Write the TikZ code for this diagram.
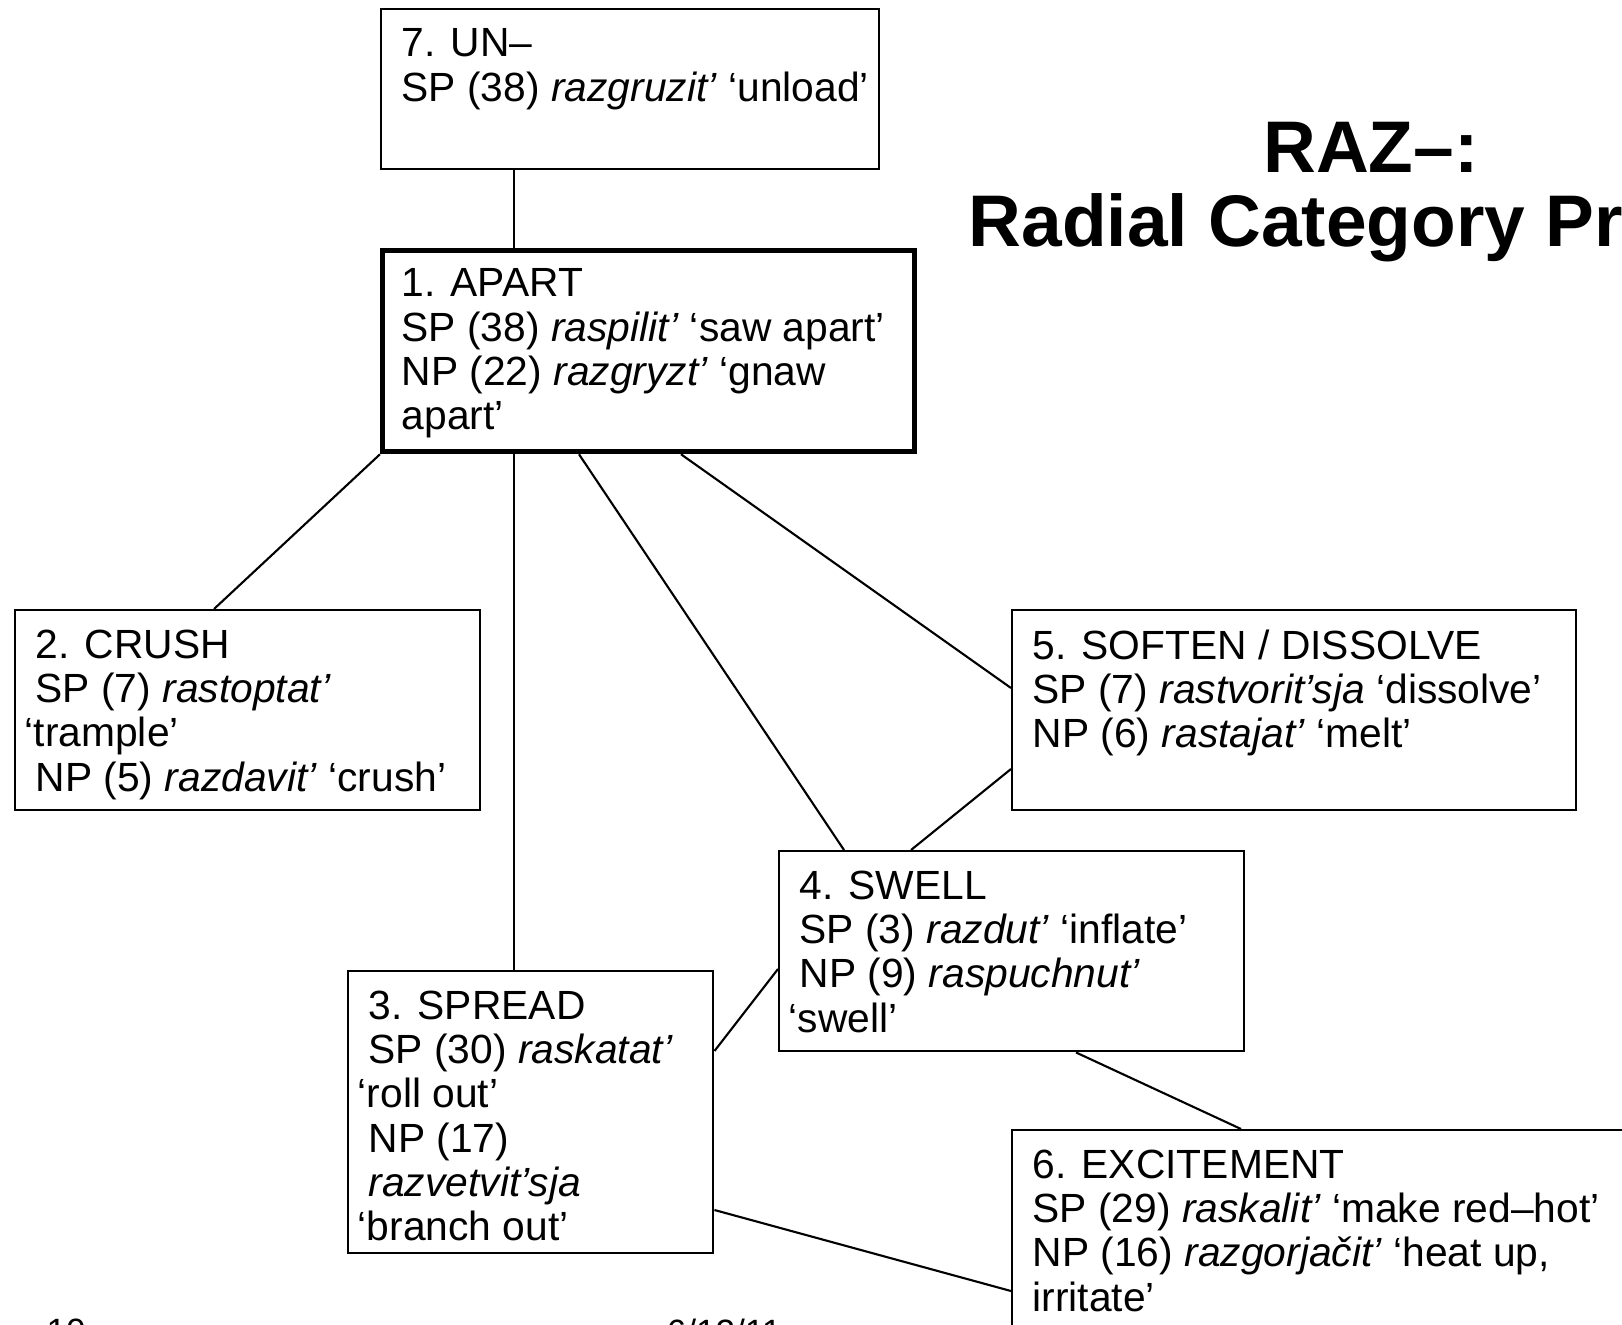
\documentclass[tikz,border=0pt]{standalone}
\usepackage{fontspec}
\setmainfont{Liberation Sans}

% small indent used at the start of most lines in the boxes
\newcommand{\boxindent}{\hspace*{1.1mm}}

\begin{document}
\begin{tikzpicture}[sense box/.style={draw, line width=0.7pt, inner sep=0pt, anchor=north west},core box/.style={sense box, line width=1.5pt},sense text/.style={anchor=north west, align=left, inner xsep=1mm, inner ysep=2mm, font=\fontsize{11.6}{12.6}\selectfont},link/.style={line width=0.6pt},title node/.style={anchor=north, align=center, inner sep=0pt, font=\fontsize{20.8}{21}\selectfont\bfseries},footer node/.style={anchor=north west, inner sep=0pt, font=\fontsize{10}{12}\selectfont}]%
\path[use as bounding box] (0,0) rectangle (16.22,-13.25);%
\clip (0,0) rectangle (16.22,-13.25);%
  % Title%
\node[title node] (title) at (13.71,-1.22) {RAZ–:\\Radial Category Profile};%
  % 7. UN-%
\node[sense box, minimum width=4.98cm, minimum height=1.60cm] (un) at (3.80,-0.08) {};%
\node[sense text] (un text) at (un.north west) {\boxindent 7. UN–\\ \boxindent SP (38) \textit{razgruzit’} ‘unload’};%
  % 1. APART%
\node[core box, minimum width=5.32cm, minimum height=2.01cm] (apart) at (3.80,-2.48) {};%
\node[sense text] (apart text) at (apart.north west) {\boxindent 1. APART\\ \boxindent SP (38) \textit{raspilit’} ‘saw apart’\\ \boxindent NP (22) \textit{razgryzt’} ‘gnaw\\ \boxindent apart’};%
  % 2. CRUSH%
\node[sense box, minimum width=4.65cm, minimum height=2.00cm] (crush) at (0.14,-6.09) {};%
\node[sense text] (crush text) at (crush.north west) {\boxindent 2. CRUSH\\ \boxindent SP (7) \textit{rastoptat’}\\ ‘trample’\\ \boxindent NP (5) \textit{razdavit’} ‘crush’};%
  % 5. SOFTEN / DISSOLVE%
\node[sense box, minimum width=5.64cm, minimum height=2.00cm] (soften) at (10.11,-6.09) {};%
\node[sense text] (soften text) at (soften.north west) {\boxindent 5. SOFTEN / DISSOLVE\\ \boxindent SP (7) \textit{rastvorit’sja} ‘dissolve’\\ \boxindent NP (6) \textit{rastajat’} ‘melt’};%
  % 4. SWELL%
\node[sense box, minimum width=4.65cm, minimum height=2.00cm] (swell) at (7.78,-8.50) {};%
\node[sense text] (swell text) at (swell.north west) {\boxindent 4. SWELL\\ \boxindent SP (3) \textit{razdut’} ‘inflate’\\ \boxindent NP (9) \textit{raspuchnut’}\\ ‘swell’};%
  % 3. SPREAD%
\node[sense box, minimum width=3.65cm, minimum height=2.82cm] (spread) at (3.47,-9.70) {};%
\node[sense text] (spread text) at (spread.north west) {\boxindent 3. SPREAD\\ \boxindent SP (30) \textit{raskatat’}\\ ‘roll out’\\ \boxindent NP (17)\\ \boxindent \textit{razvetvit’sja}\\ ‘branch out’};%
  % 6. EXCITEMENT%
\node[sense box, minimum width=6.50cm, minimum height=2.50cm] (excite) at (10.11,-11.29) {};%
\node[sense text] (excite text) at (excite.north west) {\boxindent 6. EXCITEMENT\\ \boxindent SP (29) \textit{raskalit’} ‘make red–hot’\\ \boxindent NP (16) \textit{razgorjačit’} ‘heat up,\\ \boxindent irritate’};%
  % links%
\draw[link] ([xshift=1.34cm]un.south west) -- ([xshift=1.34cm]apart.north west);%
\draw[link] (apart.south west) -- ([xshift=2.00cm]crush.north west);%
\draw[link] ([xshift=1.34cm]apart.south west) -- ([xshift=1.67cm]spread.north west);%
\draw[link] ([xshift=1.99cm]apart.south west) -- ([xshift=0.66cm]swell.north west);%
\draw[link] ([xshift=3.01cm]apart.south west) -- ([yshift=-0.79cm]soften.north west);%
\draw[link] ([yshift=-1.60cm]soften.north west) -- ([xshift=1.33cm]swell.north west);%
\draw[link] ([yshift=-1.19cm]swell.north west) -- ([yshift=-0.81cm]spread.north east);%
\draw[link] ([xshift=2.98cm]swell.south west) -- ([xshift=2.30cm]excite.north west);%
\draw[link] ([yshift=-2.40cm]spread.north east) -- ([yshift=-1.62cm]excite.north west);%
  % footer%
\node[footer node] (slide no) at (0.46,-13.18) {10};%
\node[footer node] (slide date) at (6.66,-13.18) {6/12/11};%
\end{tikzpicture}
\end{document}
